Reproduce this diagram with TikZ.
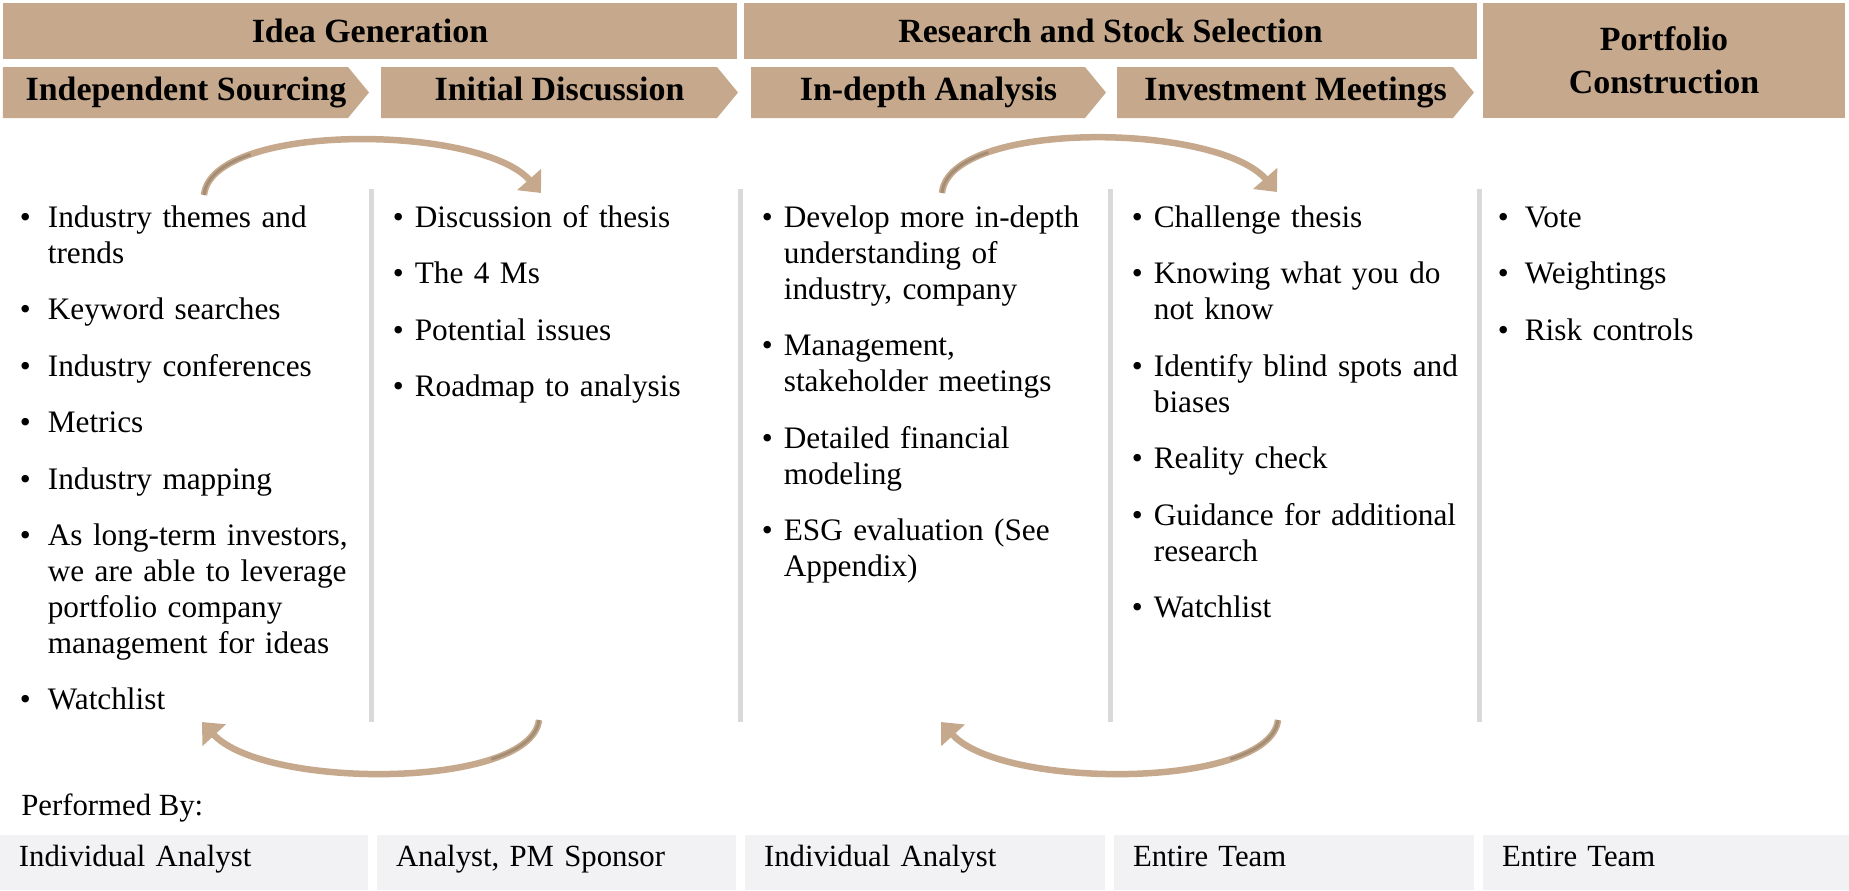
\documentclass[tikz,border=0pt]{standalone}
\usepackage{fontspec}
\setmainfont{Liberation Serif}
\usetikzlibrary{positioning,arrows.meta}

\definecolor{tan}{HTML}{C6A98C}
\definecolor{tandark}{HTML}{A48E76}
\definecolor{boxgray}{HTML}{F2F2F4}
\definecolor{rulegray}{HTML}{D9D9D9}

\newcommand{\headfont}{\fontsize{19.3}{24.4}\selectfont\bfseries}
\newcommand{\bodyfont}{\fontsize{17.8}{20.5}\selectfont}
\newcommand{\ownerfont}{\fontsize{17.5}{21}\selectfont}
\newlength{\bhang}
\newcommand{\pitem}[1]{\par\hangindent=\bhang\hangafter=1\noindent\makebox[\bhang][l]{\textbullet}{\let\\\newline#1}\par\vspace{11.6pt}}

\begin{document}
\begin{tikzpicture}
  \tikzset{
    stagebar/.style={fill=tan, minimum height=1.12cm, inner sep=0pt, font=\headfont},
    phasetag/.style={minimum height=1.02cm, inner sep=0pt, font=\headfont,
      text height=1.1em, text depth=0.22em,
      path picture={\fill[tan] (path picture bounding box.north west)
        -- ([xshift=-0.42cm]path picture bounding box.north east)
        -- (path picture bounding box.east)
        -- ([xshift=-0.42cm]path picture bounding box.south east)
        -- (path picture bounding box.south west) -- cycle;}},
    tasklist/.style={anchor=north west, inner sep=0pt, text width=6.9cm, align=left,
      font=\bodyfont\setlength{\bhang}{#1}},
    ownerbox/.style={fill=boxgray, minimum height=1.1cm, inner ysep=0pt, inner xsep=0.38cm,
      text width=#1, align=left, font=\ownerfont, text height=0.72em, text depth=0.24em},
    loopflow/.style={draw=tan, line width=0.13cm, -{Triangle[width=0.62cm,length=0.36cm]}},
    loopshade/.style={draw=tandark, line width=0.06cm, dash pattern=on 1.3cm off 40cm}
  }
  \useasboundingbox (0,0) rectangle (36.98,-17.8);

  % stage headers
  \node[stagebar, minimum width=14.68cm] (ideagen) at (7.40,-0.62) {Idea Generation};
  \node[stagebar, minimum width=14.66cm] (research) at (22.21,-0.62) {Research and Stock Selection};
  \node[stagebar, minimum width=7.24cm, minimum height=2.30cm, align=center] (portfolio) at (33.28,-1.21) {Portfolio\\Construction};

  % phases
  \node[phasetag, minimum width=7.32cm] (sourcing) at (3.72,-1.85) {Independent Sourcing};
  \node[phasetag, minimum width=7.14cm] (discussion) at (11.19,-1.85) {Initial Discussion};
  \node[phasetag, minimum width=7.10cm] (analysis) at (18.57,-1.85) {In-depth Analysis};
  \node[phasetag, minimum width=7.14cm] (meetings) at (25.91,-1.85) {Investment Meetings};

  % column rules
  \draw[rulegray, line width=0.1cm] (7.42,-3.78) -- (7.42,-14.44);
  \draw[rulegray, line width=0.1cm] (14.80,-3.78) -- (14.80,-14.44);
  \draw[rulegray, line width=0.1cm] (22.20,-3.78) -- (22.20,-14.44);
  \draw[rulegray, line width=0.1cm] (29.58,-3.78) -- (29.58,-14.44);

  % tasks
  \node[tasklist=0.56cm] (sourcingList) at (0.39,-3.82) {%
    \pitem{Industry themes and\\trends}
    \pitem{Keyword searches}
    \pitem{Industry conferences}
    \pitem{Metrics}
    \pitem{Industry mapping}
    \pitem{As long-term investors,\\we are able to leverage\\portfolio company\\management for ideas}
    \pitem{Watchlist}};
  \node[tasklist=0.44cm] (discussionList) at (7.85,-3.82) {%
    \pitem{Discussion of thesis}
    \pitem{The 4 Ms}
    \pitem{Potential issues}
    \pitem{Roadmap to analysis}};
  \node[tasklist=0.44cm] (analysisList) at (15.23,-3.82) {%
    \pitem{Develop more in-depth\\understanding of\\industry, company}
    \pitem{Management,\\stakeholder meetings}
    \pitem{Detailed financial\\modeling}
    \pitem{ESG evaluation (See\\Appendix)}};
  \node[tasklist=0.44cm] (meetingsList) at (22.63,-3.82) {%
    \pitem{Challenge thesis}
    \pitem{Knowing what you do\\not know}
    \pitem{Identify blind spots and\\biases}
    \pitem{Reality check}
    \pitem{Guidance for additional\\research}
    \pitem{Watchlist}};
  \node[tasklist=0.54cm] (portfolioList) at (29.95,-3.82) {%
    \pitem{Vote}
    \pitem{Weightings}
    \pitem{Risk controls}};

  % feedback loops
  \coordinate (srcTop) at (4.08,-3.90);
  \coordinate (discTop) at (10.82,-3.86);
  \coordinate (anaTop) at (18.84,-3.86);
  \coordinate (meetTop) at (25.54,-3.84);
  \coordinate (srcBot) at (4.04,-14.44);
  \coordinate (discBot) at (10.78,-14.40);
  \coordinate (anaBot) at (18.82,-14.44);
  \coordinate (meetBot) at (25.56,-14.40);

  \draw[loopflow] (srcTop) .. controls (4.24,-2.44) and (9.60,-2.48) .. (discTop);
  \draw[loopshade] (srcTop) .. controls (4.24,-2.44) and (9.60,-2.48) .. (discTop);
  \draw[loopflow] (anaTop) .. controls (18.98,-2.40) and (24.32,-2.44) .. (meetTop);
  \draw[loopshade] (anaTop) .. controls (18.98,-2.40) and (24.32,-2.44) .. (meetTop);
  \draw[loopflow] (discBot) .. controls (10.62,-15.78) and (5.30,-15.80) .. (srcBot);
  \draw[loopshade] (discBot) .. controls (10.62,-15.78) and (5.30,-15.80) .. (srcBot);
  \draw[loopflow] (meetBot) .. controls (25.40,-15.78) and (20.06,-15.80) .. (anaBot);
  \draw[loopshade] (meetBot) .. controls (25.40,-15.78) and (20.06,-15.80) .. (anaBot);

  % performed by
  \node[anchor=west, inner sep=0pt, font=\ownerfont] (performed) at (0.42,-16.16) {Performed By:};
  \node[ownerbox=6.60cm] (sourcingWho) at (3.68,-17.25) {Individual Analyst};
  \node[ownerbox=6.42cm] (discussionWho) at (11.13,-17.25) {Analyst, PM Sponsor};
  \node[ownerbox=6.44cm] (analysisWho) at (18.50,-17.25) {Individual Analyst};
  \node[ownerbox=6.44cm] (meetingsWho) at (25.88,-17.25) {Entire Team};
  \node[ownerbox=6.56cm] (portfolioWho) at (33.32,-17.25) {Entire Team};
\end{tikzpicture}
\end{document}
